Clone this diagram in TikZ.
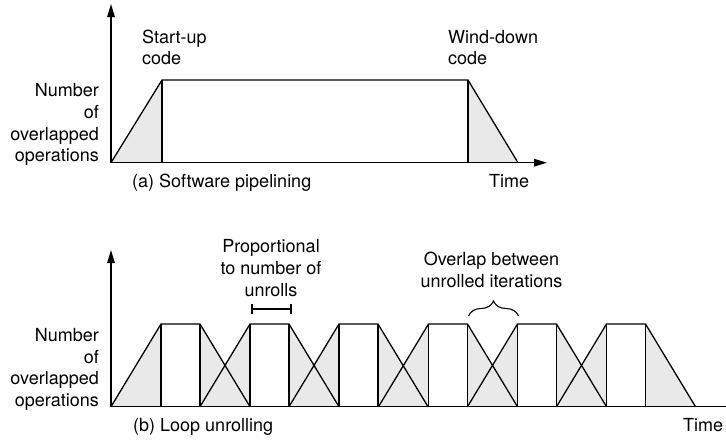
\documentclass[tikz,border=0pt]{standalone}
\usepackage{fontspec}
\setmainfont{TeX Gyre Heros}
\usetikzlibrary{arrows.meta,decorations.pathreplacing}
\definecolor{shade}{gray}{0.915}
\begin{document}
\begin{tikzpicture}[x=1pt,y=-1pt,
  every node/.style={inner sep=0pt,font=\fontsize{18}{21.7}\selectfont},
  axis/.style={line width=1.4pt,-{Triangle[length=13pt,width=7.5pt]}},
  edge/.style={line width=1.3pt,line join=miter},
  ramp/.style={fill=shade},
  lbl/.style={anchor=base west},
  rlbl/.style={anchor=base east},
  clbl/.style={anchor=base}]
\useasboundingbox (0,0) rectangle (726,440);

% ---------- (a) software pipelining ----------
\coordinate (a0) at (111,162.7);
\fill[ramp] (111,162.7) -- (162,80) -- (162,162.7) -- cycle;
\fill[ramp] (468,162.7) -- (468,80) -- (518,162.7) -- cycle;
\draw[edge] (111,162.7) -- (162,80) -- (468,80) -- (518,162.7);
\draw[edge] (162,80) -- (162,162.7);
\draw[edge] (468,80) -- (468,162.7);
\coordinate (ayend) at (111,4);
\coordinate (axend) at (547,162.7);
\draw[axis] (a0) -- (ayend);
\draw[axis] (a0) -- (axend);

\node[lbl] (su1) at (142,43.5) {Start-up};
\node[lbl] (su2) at (142,64.8) {code};
\node[lbl] (wd1) at (448,43.0) {Wind-down};
\node[lbl] (wd2) at (448,64.8) {code};
\node[rlbl] (ya1) at (99,96.7) {Number};
\node[rlbl] (ya2) at (99,118.3) {of};
\node[rlbl] (ya3) at (99,140) {overlapped};
\node[rlbl] (ya4) at (99,161.7) {operations};
\node[lbl] (capa) at (132,187.5) {(a) Software pipelining};
\node[lbl] (timea) at (489,187.5) {Time};

% ---------- (b) loop unrolling ----------
\coordinate (b0) at (111,406.7);
\foreach \b in {111,200,289,378.5,467.5,556.5}{
  \fill[ramp] (\b,406.7) -- (\b+50,324) -- (\b+50,406.7) -- cycle;
  \fill[ramp] (\b+89,406.7) -- (\b+89,324) -- (\b+139,406.7) -- cycle;
}
\foreach \b in {111,200,289,378.5,467.5,556.5}{
  \draw[edge] (\b,406.7) -- (\b+50,324) -- (\b+89,324) -- (\b+139,406.7);
  \draw[edge] (\b+50,324) -- (\b+50,406.7);
  \draw[edge] (\b+89,324) -- (\b+89,406.7);
}
\coordinate (byend) at (111,250);
\coordinate (bxend) at (726,406.7);
\draw[axis] (b0) -- (byend);
\draw[line width=1.4pt] (b0) -- (bxend);

\node[rlbl] (yb1) at (99,341.5) {Number};
\node[rlbl] (yb2) at (99,363) {of};
\node[rlbl] (yb3) at (99,384.7) {overlapped};
\node[rlbl] (yb4) at (99,406.4) {operations};
\node[lbl] (capb) at (133,431.5) {(b) Loop unrolling};
\node[lbl] (timeb) at (683,431.5) {Time};

% span of one unrolled body
\node[clbl] (pr1) at (271,252.3) {Proportional};
\node[clbl] (pr2) at (271,274.3) {to number of};
\node[clbl] (pr3) at (271,296) {unrolls};
\coordinate (spanL) at (252,309);
\coordinate (spanR) at (291,309);
\draw[line width=1.1pt] (spanL) -- (spanR);
\draw[line width=1.1pt] ([yshift=-5pt]spanL) -- ([yshift=5pt]spanL);
\draw[line width=1.1pt] ([yshift=-5pt]spanR) -- ([yshift=5pt]spanR);

% overlap between neighbouring iterations
\node[clbl] (ov1) at (491.5,265.7) {Overlap between};
\node[clbl] (ov2) at (491.5,287.7) {unrolled iterations};
\coordinate (brL) at (468.5,316);
\coordinate (brR) at (518.5,316);
\draw[line width=1.1pt,decorate,decoration={brace,amplitude=15pt}] (brL) -- (brR);
\end{tikzpicture}
\end{document}
